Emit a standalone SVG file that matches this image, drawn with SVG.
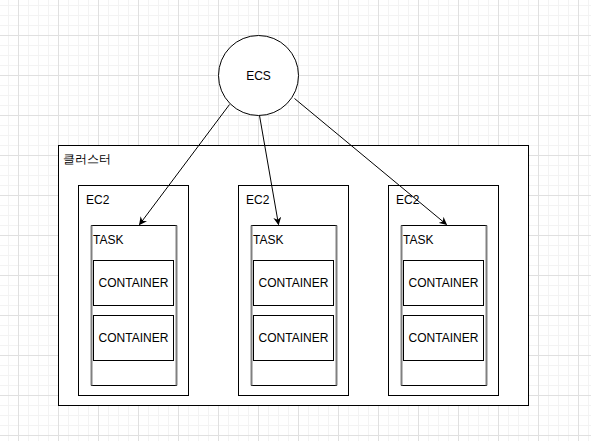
<svg xmlns="http://www.w3.org/2000/svg" width="591" height="441" viewBox="0 0 591 441">
<defs>
<pattern id="minor" width="10" height="10" patternUnits="userSpaceOnUse" x="8" y="5">
<path d="M0.5 0V10M0 0.5H10" stroke="#f3f3f3" stroke-width="1" fill="none"/>
</pattern>
<pattern id="major" width="40" height="40" patternUnits="userSpaceOnUse" x="18" y="35">
<path d="M0.5 0V40M0 0.5H40" stroke="#e0e0e0" stroke-width="1" fill="none"/>
</pattern>
<marker id="arrow" viewBox="0 0 10 10" refX="9" refY="5" markerWidth="8" markerHeight="8" markerUnits="userSpaceOnUse" orient="auto">
<path d="M0 0L10 5L0 10L3 5Z" fill="#000"/>
</marker>
</defs>
<style>
text{font-family:"Liberation Sans",Arial,sans-serif;font-size:12px;fill:#000}
.box{fill:#fff;stroke:#000;stroke-width:1}
.side{stroke:#808080;stroke-width:2}
.c{text-anchor:middle}
.edge{stroke:#000;stroke-width:1;fill:none;marker-end:url(#arrow)}
</style>
<rect width="591" height="441" fill="#fff"/>
<rect width="591" height="441" fill="url(#minor)"/>
<rect width="591" height="441" fill="url(#major)"/>

<g id="cluster">
<rect class="box" x="58.5" y="145.5" width="470" height="260"/>
<text x="63" y="163" font-family="'Liberation Sans','Noto Sans CJK KR',sans-serif">클러스터</text>
</g>

<g id="ec2-1">
<rect class="box" x="78.5" y="185.5" width="110" height="210"/>
<text x="86" y="204">EC2</text>
</g>
<g id="task-1">
<rect class="box" x="91.5" y="225.5" width="85" height="160"/>
<line class="side" x1="91.5" y1="225.5" x2="91.5" y2="385.5"/>
<line class="side" x1="176.5" y1="225.5" x2="176.5" y2="385.5"/>
<text x="93" y="244">TASK</text>
</g>
<g id="container-1a">
<rect class="box" x="93.5" y="260.5" width="80" height="45"/>
<text class="c" x="133.5" y="287">CONTAINER</text>
</g>
<g id="container-1b">
<rect class="box" x="93.5" y="315.5" width="80" height="45"/>
<text class="c" x="133.5" y="342">CONTAINER</text>
</g>

<g id="ec2-2">
<rect class="box" x="238.5" y="185.5" width="110" height="210"/>
<text x="246" y="204">EC2</text>
</g>
<g id="task-2">
<rect class="box" x="251.5" y="225.5" width="85" height="160"/>
<line class="side" x1="251.5" y1="225.5" x2="251.5" y2="385.5"/>
<line class="side" x1="336.5" y1="225.5" x2="336.5" y2="385.5"/>
<text x="253" y="244">TASK</text>
</g>
<g id="container-2a">
<rect class="box" x="253.5" y="260.5" width="80" height="45"/>
<text class="c" x="293.5" y="287">CONTAINER</text>
</g>
<g id="container-2b">
<rect class="box" x="253.5" y="315.5" width="80" height="45"/>
<text class="c" x="293.5" y="342">CONTAINER</text>
</g>

<g id="ec2-3">
<rect class="box" x="388.5" y="185.5" width="110" height="210"/>
<text x="396" y="204">EC2</text>
</g>
<g id="task-3">
<rect class="box" x="401.5" y="225.5" width="85" height="160"/>
<line class="side" x1="401.5" y1="225.5" x2="401.5" y2="385.5"/>
<line class="side" x1="486.5" y1="225.5" x2="486.5" y2="385.5"/>
<text x="403" y="244">TASK</text>
</g>
<g id="container-3a">
<rect class="box" x="403.5" y="260.5" width="80" height="45"/>
<text class="c" x="443.5" y="287">CONTAINER</text>
</g>
<g id="container-3b">
<rect class="box" x="403.5" y="315.5" width="80" height="45"/>
<text class="c" x="443.5" y="342">CONTAINER</text>
</g>

<g id="ecs">
<circle class="box" cx="258.5" cy="75.5" r="40"/>
<text class="c" x="258.5" y="80">ECS</text>
</g>

<g id="connectors">
<line class="edge" x1="229.5" y1="104.5" x2="139.5" y2="224.5"/>
<line class="edge" x1="259.5" y1="115.5" x2="278.5" y2="224.5"/>
<line class="edge" x1="294.5" y1="98.5" x2="446.5" y2="224.5"/>
</g>
</svg>
